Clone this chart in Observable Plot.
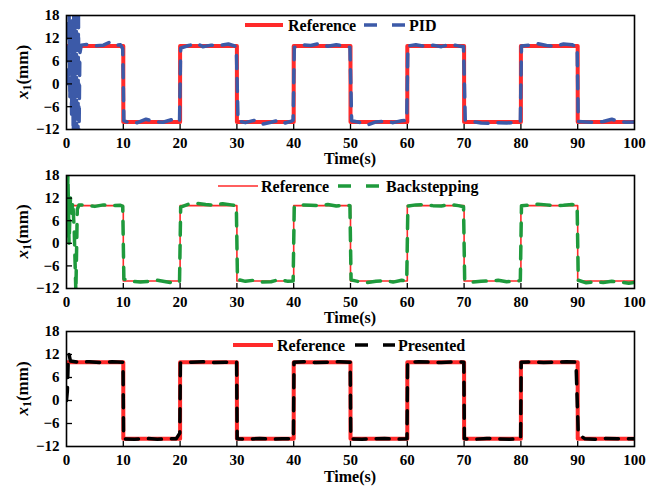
<!DOCTYPE html>
<html><head><meta charset="utf-8">
<script src="https://cdn.jsdelivr.net/npm/d3@7"></script>
<script src="https://cdn.jsdelivr.net/npm/@observablehq/plot@0.6"></script>
<style>
body{margin:0;background:#fff;}
#chart{display:block;background:#fff;}
</style></head><body>
<svg id="chart" width="648" height="494" viewBox="0 0 648 494" xmlns="http://www.w3.org/2000/svg"></svg>
<script>
const xTicks = [0,10,20,30,40,50,60,70,80,90,100];
const yTicks = [-12,-6,0,6,12,18];
const seriesNames = ["PID","Backstepping","Presented"];
const xLabel = "Time(s)";

const refTime  = [0,10,10,20,20,30,30,40,40,50,50,60,60,70,70,80,80,90,90,100];
const refValue = [10,10,-10,-10,10,10,-10,-10,10,10,-10,-10,10,10,-10,-10,10,10,-10,-10];

const pidTime = [0,0.15,0.3,0.45,0.6,0.75,0.9,1.05,1.2,1.3,1.4,1.5,1.6,1.7,1.8,1.9,2.0,2.1,2.2,2.35,2.6,
 3.5,5,6.5,7.5,8.5,9.5,9.9,
 10.1,11,12.5,14,15.5,17,18.5,19.5,19.9,
 20.1,21.5,23,24,25.5,27,28.5,29.6,29.9,
 30.2,31.5,33,34.5,36,37.5,38.5,39.6,39.9,
 40.1,41.5,43,44.5,46,47.5,49,49.9,
 50.2,51.5,53,54.5,56,57.5,59,59.9,
 60.1,61.5,63,64.5,66,67.5,69,69.9,
 70.2,71.5,73,74.5,76,77.5,79,79.9,
 80.1,81.5,83,84.5,86,87.5,89,89.9,
 90.1,91.5,93,94.5,96,97,98.5,100];
const pidValue = [0,17,2,19,-4,14,-8,24,-20,28,-26,30,-28,30,-28,26,-22,20,-14,8,10.2,
 10.4,10,10.2,10.9,10.1,10.3,9.2,
 -9.6,-10.3,-10.2,-9.3,-9.9,-10.1,-9.4,-10,-9.8,
 9.4,10.1,10.6,9.8,10.2,10.1,10.5,10,9.4,
 -9.8,-10.2,-9.6,-10.6,-10.1,-9.5,-10.3,-9.8,-9.5,
 9.6,10.3,10.1,10.6,9.9,10.3,9.9,9.6,
 -9.7,-10.1,-10.8,-10,-9.8,-10.2,-9.7,-9.6,
 10,10.3,9.9,10.2,9.8,10.4,10,9.8,
 -9.5,-9.9,-10.3,-10.4,-10.2,-10.3,-10.1,-9.9,
 10,10.2,10.6,10.1,9.9,10.5,10.3,9.8,
 -9.9,-10,-10.1,-9.9,-9.3,-9.8,-10.1,-10];

const bsTime = [0,0.25,0.45,0.7,0.9,1.1,1.35,1.65,1.9,2.2,
 3.5,5,6.5,8,9.5,9.9,
 10.1,11.5,13,14.5,16,17.5,19,19.9,
 20.1,21.5,23,24.5,26,27.5,29,29.9,
 30.1,31.5,33,34.5,36,37.5,39,39.9,
 40.1,41.5,43,44.5,46,47.5,49,49.9,
 50.1,51.5,53,54.5,56,57.5,59,59.9,
 60.1,61.5,63,64.5,66,67.5,69,69.9,
 70.1,71.5,73,74.5,76,77.5,79,79.9,
 80.1,81.5,83,84.5,86,87.5,89,89.9,
 90.1,91.5,93,94.5,96,97.5,99,100];
const bsValue = [2,18,0,12,8,11,4,-13,9,10.2,
 10.1,9.8,10.2,10,10.1,9.8,
 -9.5,-10.1,-10.3,-10.1,-9.8,-10.2,-10.6,-10.2,
 9.6,10.4,10.6,10.3,10.1,10.5,10.2,10,
 -9.6,-10.1,-9.8,-10.3,-10.2,-9.6,-10.1,-10,
 9.8,10.2,10.1,10,10.3,9.9,10.2,10,
 -9.7,-10.2,-10.4,-10.1,-9.9,-10.3,-9.8,-10,
 9.9,10.2,10.3,10,9.9,10.3,10,9.7,
 -9.8,-10.3,-10.1,-10,-9.8,-10.2,-10.1,-9.9,
 10,10.1,10.4,10.2,10,10.1,10.3,10,
 -9.8,-10.5,-10.2,-10.4,-10.1,-10.3,-10.6,-10.4];

const prTime = [0,0.15,0.3,0.45,0.7,2,4,6,8,9.95,
 10.05,12,14,16,18,19.3,19.95,
 20.05,22,24,26,28,29.95,
 30.05,32,34,36,38,39.95,
 40.05,42,44,46,48,49.95,
 50.05,52,54,56,58,59.95,
 60.05,62,64,66,68,69.95,
 70.05,72,74,76,78,79.95,
 80.05,82,84,86,88,89.7,
 90.1,91.3,93,95,97,100];
const prValue = [0,2.5,10,12,10.3,10,10.1,9.9,10.1,10,
 -10,-10.1,-9.9,-10.1,-10,-10,-8.5,
 9.8,10,10.1,9.9,10,10,
 -10,-10.1,-9.9,-10.1,-10,-10,
 10,10.1,9.9,10,10.1,10,
 -10,-10.1,-10,-9.9,-10.1,-10,
 10,10.1,10,9.9,10.1,10,
 -10,-10.1,-9.9,-10,-10.1,-10,
 10,10.1,9.9,10,10.1,10,
 -8.8,-10,-10.1,-9.9,-10,-10];

const rows = (t, v) => t.map((d, i) => ({t: d, v: v[i]}));
const refRows = rows(refTime, refValue);

const panels = [
  {name: seriesNames[0], data: rows(pidTime, pidValue), color: "#3c5aa8", refW: 4, top: 0, height: 168, mt: 15, mb: 39, lo: 31,
   legend: {y: 25, r1: 245, r2: 283, t1: 288, d1: 364, d2: 405, t2: 409}},
  {name: seriesNames[1], data: rows(bsTime, bsValue), color: "#1e9a3c", refW: 1.6, top: 168, height: 157, mt: 7, mb: 37, lo: 31,
   legend: {y: 18, r1: 218, r2: 258, t1: 261, d1: 338, d2: 383, t2: 386}},
  {name: seriesNames[2], data: rows(prTime, prValue), color: "#000000", refW: 4, top: 325, height: 169, mt: 6, mb: 48, lo: 32,
   legend: {y: 20, r1: 233, r2: 273, t1: 277, d1: 355, d2: 395, t2: 398}}
];

const W = 648, ML = 66, MR = 14;
const chart = document.getElementById("chart");

for (const p of panels) {
  const plotH = p.height - p.mt - p.mb;
  const plotW = W - ML - MR;
  const svg = Plot.plot({
    width: W, height: p.height,
    marginLeft: ML, marginRight: MR, marginTop: p.mt, marginBottom: p.mb,
    style: {fontFamily: "'Liberation Serif', 'Times New Roman', serif", fontSize: "15px", fontWeight: "bold", color: "#000", overflow: "visible"},
    x: {domain: [0, 100], ticks: xTicks, tickSize: 0, tickPadding: 8, label: null},
    y: {domain: [-12, 18], ticks: yTicks, tickSize: 0, tickPadding: 7, label: null},
    marks: [
      Plot.line(refRows, {x: "t", y: "v", stroke: "#ff2a2a", strokeWidth: p.refW, clip: true}),
      Plot.line(p.data, {x: "t", y: "v", stroke: p.color, strokeWidth: 3.5, strokeDasharray: "13,10", clip: true}),
      Plot.tickX(xTicks.slice(1, -1), {x: d => d, insetTop: plotH - 5, stroke: "#000", strokeWidth: 1.3}),
      Plot.tickY(yTicks.slice(1, -1), {y: d => d, insetRight: plotW - 6, stroke: "#000", strokeWidth: 1.3}),
      Plot.frame({stroke: "#000", strokeWidth: 1.6})
    ]
  });
  const s = d3.select(svg);
  // x label
  s.append("text")
    .attr("x", ML + plotW / 2).attr("y", p.mt + plotH + p.lo)
    .attr("text-anchor", "middle").attr("dominant-baseline", "middle")
    .attr("font-size", 16).attr("fill", "#000").text(xLabel);
  // y label
  const yl = s.append("text")
    .attr("transform", `translate(24,${p.mt + plotH / 2}) rotate(-90)`)
    .attr("text-anchor", "middle").attr("dominant-baseline", "middle")
    .attr("font-size", 17).attr("fill", "#000");
  yl.append("tspan").attr("font-style", "italic").text("x");
  yl.append("tspan").attr("font-size", 12).attr("dy", 4).text("1");
  yl.append("tspan").attr("dy", -4).text("(mm)");
  // legend
  const L = p.legend;
  const lg = s.append("g").attr("font-size", 16).attr("fill", "#000").attr("text-anchor", "start");
  lg.append("line").attr("x1", L.r1).attr("x2", L.r2).attr("y1", L.y).attr("y2", L.y)
    .attr("stroke", "#ff2a2a").attr("stroke-width", p.refW);
  lg.append("text").attr("x", L.t1).attr("y", L.y).attr("dy", "0.35em").text("Reference");
  lg.append("line").attr("x1", L.d1).attr("x2", L.d2).attr("y1", L.y).attr("y2", L.y)
    .attr("stroke", p.color).attr("stroke-width", 3.5).attr("stroke-dasharray", "13,15");
  lg.append("text").attr("x", L.t2).attr("y", L.y).attr("dy", "0.35em").text(p.name);
  // place as nested svg inside the single page svg
  svg.setAttribute("x", 0);
  svg.setAttribute("y", p.top);
  svg.setAttribute("overflow", "visible");
  svg.style.width = W + "px";
  svg.style.height = p.height + "px";
  svg.style.maxWidth = "none";
  chart.appendChild(svg);
}
</script>
</body></html>
